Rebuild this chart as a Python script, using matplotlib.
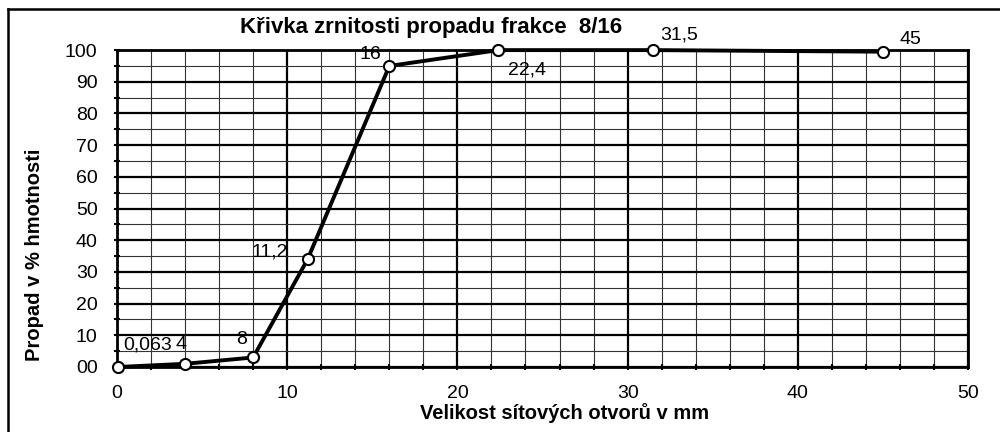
import matplotlib
matplotlib.use("Agg")
import matplotlib.pyplot as plt
from matplotlib.lines import Line2D
from matplotlib.ticker import MultipleLocator

plt.rcParams['font.family'] = ['Liberation Sans', 'DejaVu Sans']

sieve_mm = [0.063, 4, 8, 11.2, 16, 22.4, 31.5, 45]
passing = [0, 1, 3, 34, 95, 100, 100, 99.5]
point_labels = ["0,063", "4", "8", "11,2", "16", "22,4", "31,5", "45"]
label_offsets = [(21, 16), (-3, 14), (-8, 13), (-27, 5), (-14, 8), (21, -14), (19, 11), (20, 9)]

x_ticks = [0, 10, 20, 30, 40, 50]
y_ticks = [0, 10, 20, 30, 40, 50, 60, 70, 80, 90, 100]
y_tick_labels = ["00", "10", "20", "30", "40", "50", "60", "70", "80", "90", "100"]

title = "Křivka zrnitosti propadu frakce  8/16"
xlabel = "Velikost sítových otvorů v mm"
ylabel = "Propad v % hmotnosti"

fig = plt.figure(figsize=(10, 4.32), dpi=100)
ax = fig.add_axes([0.117, 0.1505, 0.851, 0.7335])

ax.set_xlim(0, 50)
ax.set_ylim(0, 100)
ax.set_xticks(x_ticks)
ax.set_yticks(y_ticks)
ax.set_yticklabels(y_tick_labels)
ax.xaxis.set_minor_locator(MultipleLocator(2))
ax.yaxis.set_minor_locator(MultipleLocator(5))

ax.grid(which='major', color='black', linewidth=1.6)
ax.grid(which='minor', color='#333333', linewidth=0.8)
ax.set_axisbelow(True)

for s in ax.spines.values():
    s.set_linewidth(2)
    s.set_color('black')

ax.tick_params(axis='both', which='major', labelsize=14, length=4, width=1.5,
               direction='inout', color='black')
ax.tick_params(axis='x', which='major', pad=11)
ax.tick_params(axis='y', which='major', pad=12)
ax.tick_params(axis='both', which='minor', length=4, width=1.5, direction='inout')

ax.plot(sieve_mm, passing, color='black', linewidth=2.8, marker='o',
        markersize=8, markerfacecolor='white', markeredgecolor='black',
        markeredgewidth=1.5, clip_on=False, zorder=5)

for xv, yv, lab, off in zip(sieve_mm, passing, point_labels, label_offsets):
    ax.annotate(lab, (xv, yv), xytext=off, textcoords='offset points',
                fontsize=14, color='black', zorder=6, ha='center', va='center',
                annotation_clip=False)

ax.set_xlabel(xlabel, fontsize=14.5, fontweight='bold')
ax.xaxis.set_label_coords(0.526, -0.114)
ax.set_ylabel(ylabel, fontsize=14.5, fontweight='bold')
ax.yaxis.set_label_coords(-0.086, 0.353)
fig.text(0.431, 0.9375, title, fontsize=16, fontweight='bold', ha='center', va='center')

# outer frame (left and top)
fig.add_artist(Line2D([0.008, 0.008], [0.0, 1 - 9 / 432], transform=fig.transFigure,
                      color='black', linewidth=1.8))
fig.add_artist(Line2D([0.008, 1.0], [1 - 9 / 432, 1 - 9 / 432], transform=fig.transFigure,
                      color='black', linewidth=1.8))

fig.savefig("out.png", dpi=100)
